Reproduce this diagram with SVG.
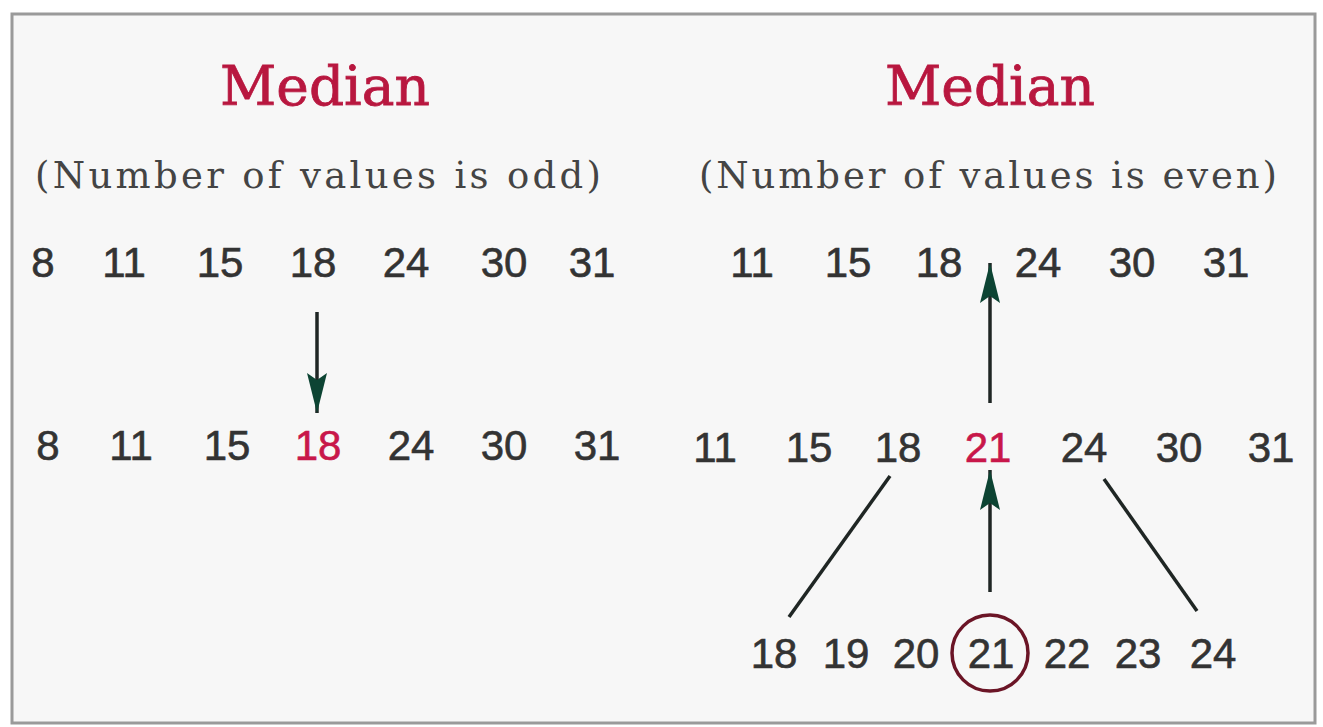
<svg xmlns="http://www.w3.org/2000/svg" width="1323" height="727" viewBox="0 0 1323 727">
  <defs>
    <style>
      .title { font-family: "DejaVu Serif", "Liberation Serif", serif; font-size: 55px; fill: #b8173f; stroke: #b8173f; stroke-width: 0.8; text-anchor: middle; }
      .sub { font-family: "DejaVu Serif", "Liberation Serif", serif; font-size: 37px; fill: #444444; text-anchor: middle; }
      .num { font-family: "Liberation Sans", Arial, sans-serif; font-size: 42px; fill: #333333; stroke: #333333; stroke-width: 0.6; text-anchor: middle; }
      .hi { fill: #c8174a; stroke: #c8174a; }
      .conn { stroke: #1f2624; stroke-width: 3.5; fill: none; }
    </style>
    <marker id="head" viewBox="0 0 40 22" refX="40" refY="11" markerWidth="40" markerHeight="22" markerUnits="userSpaceOnUse" orient="auto">
      <path d="M0,1 L40,11 L0,21 L7,11 Z" fill="#0d4433"/>
    </marker>
  </defs>

  <rect x="0" y="0" width="1323" height="727" fill="#ffffff"/>
  <rect id="frame" x="12" y="14" width="1303" height="709" fill="#f7f7f7" stroke="#9a9a9a" stroke-width="3"/>

  <g id="left-title">
    <text class="title" x="325" y="105">Median</text>
    <text class="sub" x="318" y="188" textLength="566" lengthAdjust="spacing">(Number of values is odd)</text>
  </g>

  <g id="right-title">
    <text class="title" x="990" y="105">Median</text>
    <text class="sub" x="988" y="188" textLength="578" lengthAdjust="spacing">(Number of values is even)</text>
  </g>

  <g id="left-row1">
    <text class="num" x="43" y="277">8</text>
    <text class="num" x="124" y="277">11</text>
    <text class="num" x="220" y="277">15</text>
    <text class="num" x="313" y="277">18</text>
    <text class="num" x="406" y="277">24</text>
    <text class="num" x="504" y="277">30</text>
    <text class="num" x="592" y="277">31</text>
  </g>

  <g id="left-row2">
    <text class="num" x="48" y="460">8</text>
    <text class="num" x="131" y="460">11</text>
    <text class="num" x="227" y="460">15</text>
    <text class="num hi" x="318" y="460">18</text>
    <text class="num" x="411" y="460">24</text>
    <text class="num" x="504" y="460">30</text>
    <text class="num" x="597" y="460">31</text>
  </g>

  <g id="right-row1">
    <text class="num" x="752" y="277">11</text>
    <text class="num" x="848" y="277">15</text>
    <text class="num" x="939" y="277">18</text>
    <text class="num" x="1038" y="277">24</text>
    <text class="num" x="1132" y="277">30</text>
    <text class="num" x="1226" y="277">31</text>
  </g>

  <g id="right-row2">
    <text class="num" x="715" y="462">11</text>
    <text class="num" x="809" y="462">15</text>
    <text class="num" x="898" y="462">18</text>
    <text class="num hi" x="988" y="462">21</text>
    <text class="num" x="1084" y="462">24</text>
    <text class="num" x="1179" y="462">30</text>
    <text class="num" x="1271" y="462">31</text>
  </g>

  <g id="right-row3">
    <text class="num" x="774" y="668">18</text>
    <text class="num" x="846" y="668">19</text>
    <text class="num" x="916" y="668">20</text>
    <text class="num" x="991" y="668">21</text>
    <text class="num" x="1067" y="668">22</text>
    <text class="num" x="1138" y="668">23</text>
    <text class="num" x="1213" y="668">24</text>
    <circle cx="990" cy="653" r="38" fill="none" stroke="#6b1526" stroke-width="3.5"/>
  </g>

  <g id="connectors">
    <line class="conn" x1="317" y1="312" x2="317" y2="413" marker-end="url(#head)"/>
    <line class="conn" x1="990" y1="403" x2="990" y2="263" marker-end="url(#head)"/>
    <line class="conn" x1="990" y1="592" x2="990" y2="470" marker-end="url(#head)"/>
    <line class="conn" x1="890" y1="476" x2="789" y2="617"/>
    <line class="conn" x1="1104" y1="479" x2="1197" y2="611"/>
  </g>
</svg>
